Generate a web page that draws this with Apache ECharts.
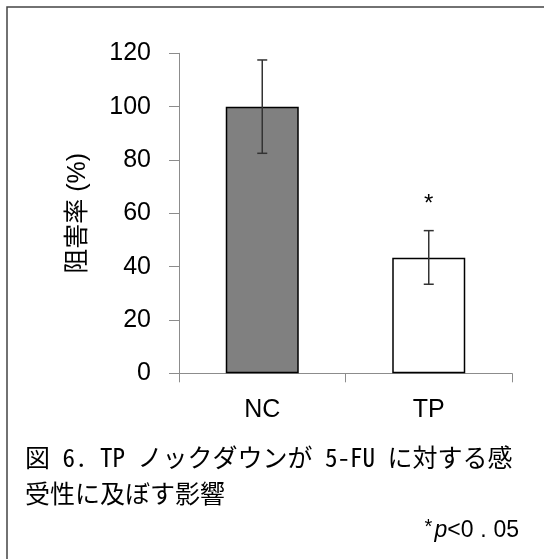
<!DOCTYPE html>
<html>
<head>
<meta charset="utf-8">
<script src="https://cdn.jsdelivr.net/npm/echarts@6/dist/echarts.min.js"></script>
<style>
html,body{margin:0;padding:0;background:#fff;}
#c{width:544px;height:559px;}
</style>
</head>
<body>
<div id="c"></div>
<script>
const categories = ['NC', 'TP'];
const means = [100, 43.3];
const errLow = [82.5, 33.4];
const errHigh = [117.5, 53.5];
const sigMarks = ['', '*'];
const yTicks = [0, 20, 40, 60, 80, 100, 120];
const yAxisName = '阻害率 (%)';
const captionLine1 = '図 6. TP ノックダウンが 5-FU に対する感';
const captionLine2 = '受性に及ぼす影響';

const barColors = ['#808080', '#ffffff'];
const errData = categories.map((c, i) => [i, errLow[i], errHigh[i], sigMarks[i]]);

const chart = echarts.init(document.getElementById('c'), null, {renderer: 'canvas'});
const monoCJK = "'Noto Sans Mono CJK JP','Noto Sans CJK JP','Liberation Mono',monospace";

chart.setOption({
  backgroundColor: '#ffffff',
  animation: false,
  grid: {left: 179, right: 32, top: 53.3, bottom: 185.7, containLabel: false},
  xAxis: {
    type: 'category',
    data: categories,
    boundaryGap: true,
    axisLine: {lineStyle: {color: '#8c8c8c', width: 1}},
    axisTick: {show: true, alignWithLabel: false, length: 9, lineStyle: {color: '#8c8c8c'}},
    axisLabel: {margin: 24, fontSize: 25, color: '#000', fontFamily: 'Liberation Sans, Arial, sans-serif'}
  },
  yAxis: {
    type: 'value',
    min: 0,
    max: yTicks[yTicks.length - 1],
    interval: yTicks[1] - yTicks[0],
    name: yAxisName,
    nameLocation: 'middle',
    nameRotate: 90,
    nameGap: 88,
    nameTextStyle: {fontSize: 25, color: '#000', fontFamily: "'Liberation Sans','Noto Sans CJK JP',sans-serif"},
    splitLine: {show: false},
    axisLine: {show: true, lineStyle: {color: '#8c8c8c', width: 1}},
    axisTick: {show: true, length: 10, lineStyle: {color: '#8c8c8c'}},
    axisLabel: {margin: 28, fontSize: 25, color: '#000', fontFamily: 'Liberation Sans, Arial, sans-serif'}
  },
  series: [
    {
      type: 'bar',
      data: means.map((v, i) => ({value: v, itemStyle: {color: barColors[i]}})),
      barWidth: 73,
      itemStyle: {borderColor: '#000', borderWidth: 1.5},
      z: 2
    },
    {
      type: 'custom',
      data: errData,
      z: 5,
      renderItem: function (params, api) {
        const x = api.value(0);
        const lo = api.coord([x, api.value(1)]);
        const hi = api.coord([x, api.value(2)]);
        const mark = errData[params.dataIndex][3];
        const cap = 5;
        const st = {stroke: '#333', lineWidth: 1.5};
        const children = [
          {type: 'line', shape: {x1: lo[0], y1: lo[1], x2: hi[0], y2: hi[1]}, style: st},
          {type: 'line', shape: {x1: lo[0] - cap, y1: lo[1], x2: lo[0] + cap, y2: lo[1]}, style: st},
          {type: 'line', shape: {x1: hi[0] - cap, y1: hi[1], x2: hi[0] + cap, y2: hi[1]}, style: st}
        ];
        if (mark) {
          children.push({
            type: 'text',
            style: {
              text: mark, x: hi[0], y: hi[1] - 26,
              align: 'center', verticalAlign: 'middle',
              font: "24px 'Liberation Sans', Arial, sans-serif", fill: '#000'
            }
          });
        }
        return {type: 'group', children: children};
      }
    }
  ],
  graphic: [
    {type: 'rect', shape: {x: 7, y: 7, width: 600, height: 600}, style: {fill: 'none', stroke: '#444', lineWidth: 1.5}, silent: true, z: 0},
    {type: 'text', left: 25, top: 445, style: {text: captionLine1, font: '25px ' + monoCJK, fill: '#000'}},
    {type: 'text', left: 25, top: 481, style: {text: captionLine2, font: '25px ' + monoCJK, fill: '#000'}},
    {
      type: 'text', right: 25, top: 517,
      style: {
        text: '{s|*}{p|p}{a|<0}{d|.}{a|05}',
        fill: '#000',
        rich: {
          s: {fontSize: 20, fontFamily: 'Liberation Sans', padding: [0, 2, 8, 0]},
          p: {fontSize: 23, fontStyle: 'italic', fontFamily: 'Liberation Sans'},
          a: {fontSize: 23, fontFamily: 'Liberation Sans'},
          d: {fontSize: 23, fontFamily: 'Liberation Sans', width: 20, align: 'center'}
        }
      }
    }
  ]
});
</script>
</body>
</html>
